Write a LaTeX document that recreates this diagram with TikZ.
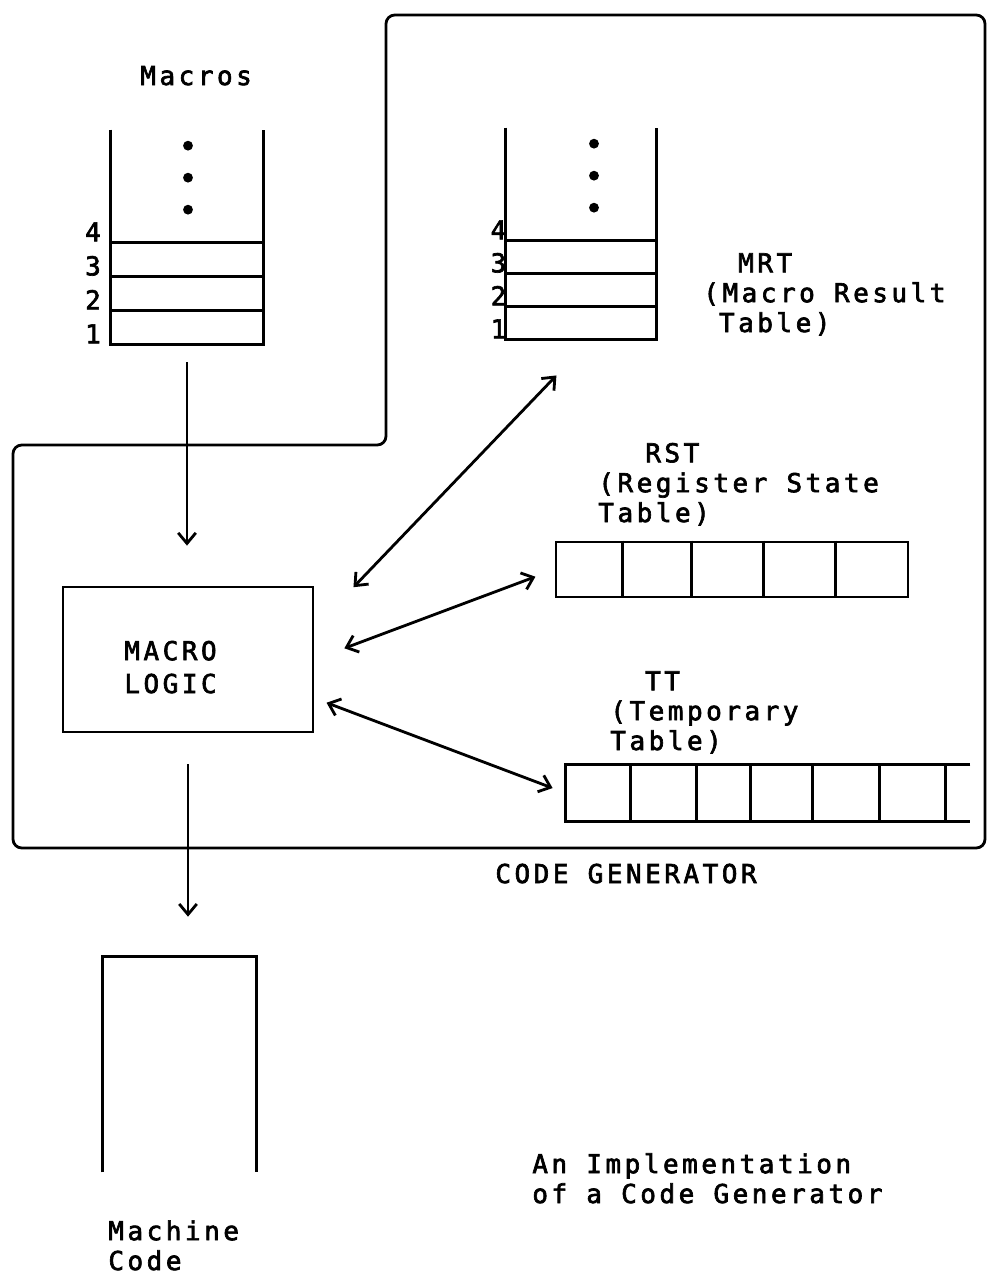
\documentclass[tikz,border=0pt]{standalone}
\usepackage{fontspec}
\newfontfamily\typer[LetterSpace=13.5,FakeBold=2.5]{DejaVu Sans Mono}
\usetikzlibrary{arrows.meta,positioning,calc}
\tikzset{
  frame/.style={line width=1.6pt,rounded corners=5pt},
  rule/.style={line width=1.6pt},
  box/.style={rectangle,draw,line width=1.6pt,inner sep=0pt},
  slot/.style={rectangle,inner sep=0pt},
  lbl/.style={font=\typer\fontsize{14.8}{17}\selectfont,inner sep=0pt,align=left,anchor=base west},
  num/.style={font=\typer\fontsize{14.8}{17}\selectfont,inner sep=0pt,anchor=base east},
  arr/.style={-{Straight Barb[length=6pt,width=10pt]},line width=1.6pt},
  dbl/.style={{Straight Barb[length=6pt,width=10pt]}-{Straight Barb[length=6pt,width=10pt]},line width=1.6pt},
}
\begin{document}
\begin{tikzpicture}[x=0.02cm,y=-0.02cm]
  \useasboundingbox (0,0) rectangle (989,1278);
  % code generator frame
  \draw[frame] (13,445) -- (386,445) -- (386,15) -- (985,15) -- (985,848) -- (13,848) -- cycle;
  \node[lbl] (cglbl) at (495,883) {CODE GENERATOR};

  % stacks
  \node[slot,minimum width=3.06cm,minimum height=4.28cm] (macros) at (187,237) {};
  \node[slot,minimum width=3.0cm,minimum height=4.22cm] (mrt) at (581,233.5) {};
  \node[slot,minimum width=3.06cm,minimum height=4.3cm] (mach) at (179.5,1064.5) {};
  \foreach \s/\h/\dx/\px in {macros/34/-9/1,mrt/33/1/13} {
    \draw[rule] (\s.north west) -- (\s.south west) -- (\s.south east) -- (\s.north east);
    \foreach \i in {1,2,3}
      \draw[rule] ($(\s.south west)+(0,-\h*\i)$) -- ($(\s.south east)+(0,-\h*\i)$);
    \foreach \i in {1,...,4}
      \node[num] at ($(\s.south west)+(\dx,{-1-\h*(\i-1)})$) {\i};
    \foreach \d in {16,48,80}
      \fill ($(\s.north)+(\px,\d)$) circle (2.8pt);
  }
  \draw[rule] (mach.south west) -- (mach.north west) -- (mach.north east) -- (mach.south east);
  \node[lbl] (macroslbl) at (140,85) {Macros};
  \node[lbl] (mrtlbl) at (703,332) {\phantom{((}MRT\\(Macro Result\\\phantom{(}Table)};
  \node[lbl] (machlbl) at (108,1270) {Machine\\Code};

  % macro logic
  \node[box,minimum width=5cm,minimum height=2.9cm] (logic) at (188,659.5) {};
  \node[lbl] (logiclbl) at (124,693) {MACRO\\[1.7pt]LOGIC};

  % register state table
  \node[box,minimum width=7.04cm,minimum height=1.1cm] (rst) at (732,569.5) {};
  \foreach \d in {68,137,209,281}
    \draw[rule] ($(rst.north west)+(\d,0)$) -- ($(rst.south west)+(\d,0)$);
  \node[lbl] (rstlbl) at (598,522) {\hspace*{0.94cm}RST\\(Register State\\Table)};

  % temporary table
  \node[slot,minimum width=8.08cm,minimum height=1.12cm] (tt) at (768,793) {};
  \draw[rule] (tt.north east) -- (tt.north west) -- (tt.south west) -- (tt.south east);
  \foreach \d in {65,131,185,247,314,380}
    \draw[rule] ($(tt.north west)+(\d,0)$) -- ($(tt.south west)+(\d,0)$);
  \node[lbl] (ttlbl) at (610,750) {\phantom{((}TT\\(Temporary\\Table)};

  \node[lbl] (caption) at (532,1203) {An Implementation\\of a Code Generator};

  % connectors
  \draw[arr,shorten <=0.36cm,shorten >=0.8cm] (macros.south) -- (macros.south |- logic.north);
  \draw[arr,shorten <=0.62cm,shorten >=0.8cm] (logic.south) -- (logic.south |- mach.north);
  \draw[dbl,shorten <=1.13cm,shorten >=1.0cm] (logic.14) -- ([xshift=0.2cm]mrt.south);
  \draw[dbl,shorten <=0.64cm,shorten >=0.41cm] (logic.east) -- (rst.west);
  \draw[dbl,shorten <=0.26cm,shorten >=0.28cm] (logic.-17) -- (tt.west);
\end{tikzpicture}
\end{document}
